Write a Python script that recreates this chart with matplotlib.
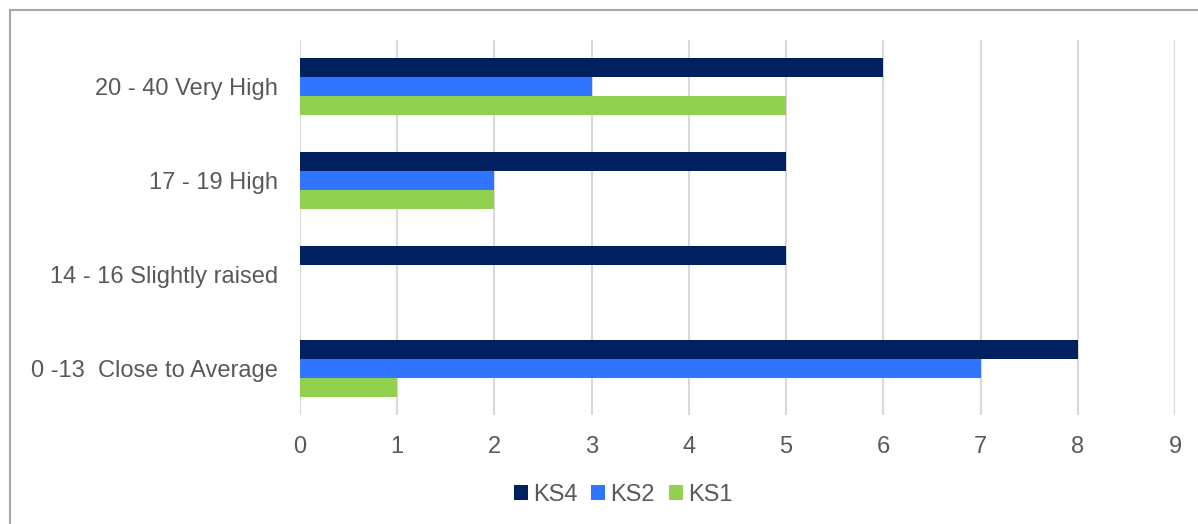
import matplotlib.pyplot as plt
import numpy as np

plt.rcParams['font.family'] = ['Liberation Sans', 'DejaVu Sans']

categories = ['0 -13  Close to Average', '14 - 16 Slightly raised', '17 - 19 High', '20 - 40 Very High']
series = ['KS4', 'KS2', 'KS1']
ks4 = [8, 5, 5, 6]
ks2 = [7, 0, 2, 3]
ks1 = [1, 0, 2, 5]
colors = ['#002060', '#2F75FF', '#92D050']

W, H = 1198, 524
fig = plt.figure(figsize=(W / 100, H / 100), dpi=100)
ax = fig.add_axes([300 / W, 1 - 415 / H, 875 / W, 375 / H])

y = np.arange(len(categories))
bar_h = 0.203
for i, (name, vals, col) in enumerate(zip(series, [ks4, ks2, ks1], colors)):
    ax.barh(y + (1 - i) * bar_h, vals, height=bar_h, color=col, label=name, zorder=3)

ax.set_xlim(0, 9)
ax.set_ylim(-0.5, len(categories) - 0.5)
ax.set_xticks(range(10))
ax.set_yticks(y)
ax.set_yticklabels(categories)
ax.tick_params(length=0, labelsize=17, labelcolor='#595959')
ax.tick_params(axis='x', pad=15)
ax.tick_params(axis='y', pad=16)
ax.grid(axis='x', color='#D9D9D9', linewidth=1.5, zorder=0)
for s in ax.spines.values():
    s.set_visible(False)

ax.legend(loc='center', bbox_to_anchor=(623 / W, 1 - 495 / H), bbox_transform=fig.transFigure,
          ncol=3, frameon=False, fontsize=17, labelcolor='#595959',
          handlelength=0.6, handleheight=0.6, handletextpad=0.2, columnspacing=0.6)

# outer chart frame (top and left edges)
fig.add_artist(plt.Line2D([10 / W, 1], [1 - 10 / H, 1 - 10 / H], color='#A6A6A6', linewidth=1.5))
fig.add_artist(plt.Line2D([10 / W, 10 / W], [0, 1 - 10 / H], color='#A6A6A6', linewidth=1.5))

fig.savefig('out.png', dpi=100)
